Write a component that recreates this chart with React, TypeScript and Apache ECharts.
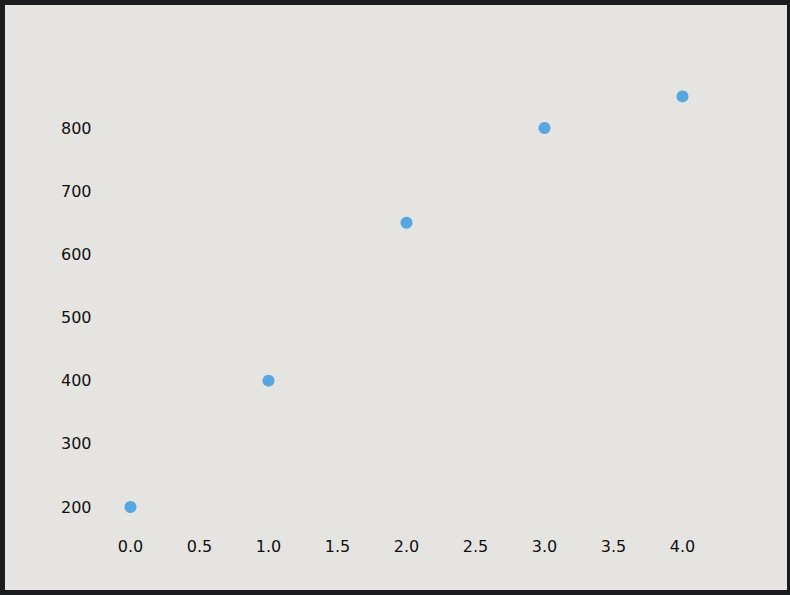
import React, { useEffect, useRef } from "react";
import * as echarts from "echarts";

const xValues = [0, 1, 2, 3, 4];
const yValues = [200, 400, 650, 800, 850];

export default function App() {
  const ref = useRef<HTMLDivElement>(null);
  useEffect(() => {
    if (!ref.current) return;
    const chart = echarts.init(ref.current, undefined, { renderer: "svg" });
    const labelStyle = {
      color: "#111111",
      fontFamily: "DejaVu Sans",
      fontSize: 16,
    };
    chart.setOption({
      animation: false,
      backgroundColor: "#e6e4e1",
      grid: { left: 125.5, top: 123, width: 552, height: 379, containLabel: false },
      xAxis: {
        type: "value",
        min: 0,
        max: 4,
        interval: 0.5,
        axisLine: { show: false },
        axisTick: { show: false },
        splitLine: { show: false },
        axisLabel: {
          ...labelStyle,
          margin: 31,
          formatter: (v: number) => v.toFixed(1),
        },
      },
      yAxis: {
        type: "value",
        min: 200,
        max: 800,
        interval: 100,
        axisLine: { show: false },
        axisTick: { show: false },
        splitLine: { show: false },
        axisLabel: { ...labelStyle, margin: 39 },
      },
      series: [
        {
          type: "scatter",
          clip: false,
          symbolSize: 12,
          itemStyle: { color: "#56a6e2", opacity: 1 },
          data: xValues.map((x, i) => [x, yValues[i]]),
        },
      ],
    });
    return () => chart.dispose();
  }, []);
  return (
    <div
      style={{
        position: "absolute",
        left: 0,
        top: 0,
        width: 790,
        height: 595,
        background: "#1a1c1e",
      }}
    >
      <div
        ref={ref}
        style={{ position: "absolute", left: 5, top: 5, width: 782, height: 585 }}
      />
    </div>
  );
}
